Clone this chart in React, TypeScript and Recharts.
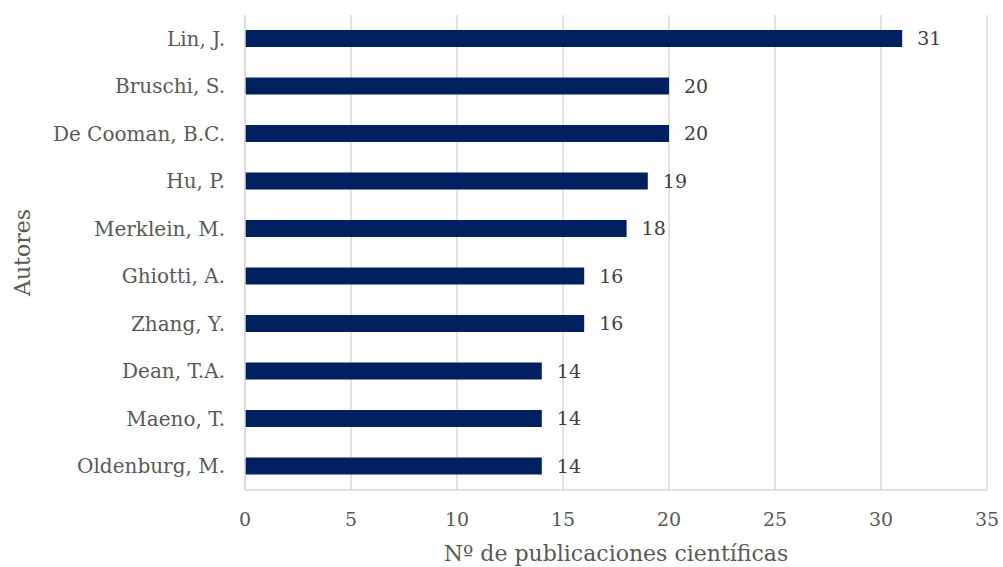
import { BarChart, Bar, XAxis, YAxis, CartesianGrid, LabelList } from 'recharts';

const authors = [
  'Lin, J.',
  'Bruschi, S.',
  'De Cooman, B.C.',
  'Hu, P.',
  'Merklein, M.',
  'Ghiotti, A.',
  'Zhang, Y.',
  'Dean, T.A.',
  'Maeno, T.',
  'Oldenburg, M.',
];
const publications = [31, 20, 20, 19, 18, 16, 16, 14, 14, 14];
const xTicks = [0, 5, 10, 15, 20, 25, 30, 35];

const FONT = '"DejaVu Serif", Georgia, serif';
const GRID = '#d9d9d9';

export default function App() {
  const data = authors.map((name, i) => ({ name, value: publications[i] }));

  return (
    <div style={{ position: 'absolute', left: 0, top: 0, background: '#fff' }}>
      <BarChart
        width={1003}
        height={567}
        data={data}
        layout="vertical"
        margin={{ top: 15, right: 16, left: 0, bottom: 0 }}
        style={{ fontFamily: FONT }}
      >
        <CartesianGrid horizontal={false} stroke={GRID} strokeWidth={1.5} />
        <XAxis
          type="number"
          domain={[0, 35]}
          ticks={xTicks}
          height={77}
          tickLine={false}
          axisLine={{ stroke: GRID, strokeWidth: 1.5 }}
          tickMargin={17}
          tick={{ fontSize: 19, fill: '#595959', fontFamily: FONT }}
          label={{
            value: 'Nº de publicaciones científicas',
            position: 'insideBottom',
            offset: 6,
            style: { fontSize: 22, fill: '#595959', fontFamily: FONT },
          }}
        />
        <XAxis
          xAxisId="top"
          orientation="top"
          type="number"
          domain={[0, 35]}
          height={0}
          tick={false}
          tickLine={false}
          axisLine={{ stroke: GRID, strokeWidth: 1.5 }}
        />
        <YAxis
          type="category"
          dataKey="name"
          width={245}
          tickLine={false}
          axisLine={{ stroke: GRID, strokeWidth: 1.5 }}
          tickMargin={14}
          interval={0}
          tick={{ fontSize: 20, fill: '#595959', fontFamily: FONT }}
          label={{
            value: 'Autores',
            angle: -90,
            position: 'insideLeft',
            offset: 22,
            style: { fontSize: 22, fill: '#595959', fontFamily: FONT, textAnchor: 'middle' },
          }}
        />
        <Bar dataKey="value" fill="#002060" barSize={17} isAnimationActive={false}>
          <LabelList
            dataKey="value"
            position="right"
            offset={15}
            style={{ fontSize: 19, fill: '#404040', fontFamily: FONT }}
          />
        </Bar>
      </BarChart>
    </div>
  );
}
